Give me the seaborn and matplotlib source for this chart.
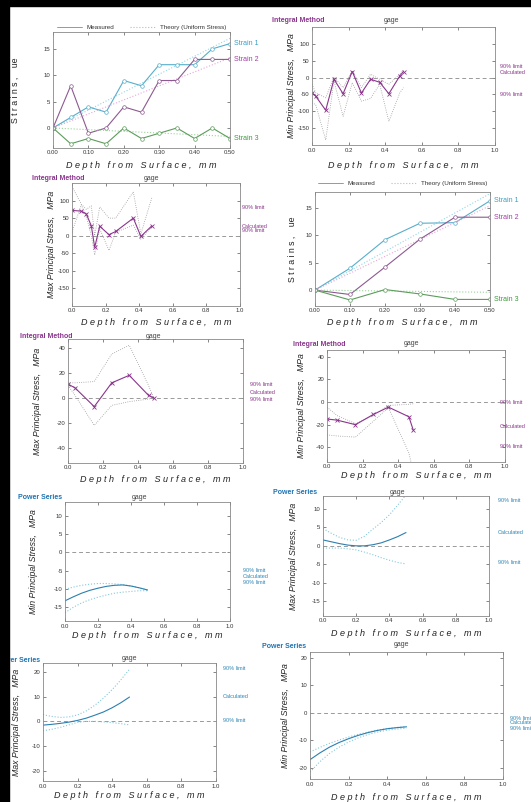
import numpy as np
import pandas as pd
import seaborn as sns
import matplotlib.pyplot as plt
from matplotlib.lines import Line2D
from matplotlib.patches import Rectangle

# ---- data ----
# strain panels
depth_a = [0.00, 0.05, 0.10, 0.15, 0.20, 0.25, 0.30, 0.35, 0.40, 0.45, 0.50]
strain1_a = [0, 2, 4, 3, 9, 8, 12, 12, 12, 15, 16]
strain2_a = [0, 8, -1, 0, 4, 3, 9, 9, 13, 13, 13]
strain3_a = [0, -3, -2, -3, 0, -2, -1, 0, -2, 0, -2]
theory_depth = [0.0, 0.5]
theory1_a = [0, 17.0]
theory2_a = [0, 13.3]
theory3_a = [0, -1.6]

depth_b = [0.0, 0.1, 0.2, 0.3, 0.4, 0.5]
strain1_b = [0, 4.0, 9.2, 12.2, 12.3, 16.3]
strain2_b = [0, -0.8, 4.2, 9.3, 13.3, 13.3]
strain3_b = [0, -1.8, 0.1, -0.7, -1.7, -1.7]
theory1_b = [0, 17.6]
theory2_b = [0, 15.4]
theory3_b = [0, -0.4]

# integral method, min principal (top right)
x_int_min1 = [0.0, 0.02, 0.075, 0.12, 0.17, 0.22, 0.27, 0.32, 0.37, 0.42, 0.48, 0.5]
calc_int_min1 = [-45, -55, -97, -5, -48, 18, -46, -5, -14, -48, 5, 18]
upper_int_min1 = [-20, -45, -60, 2, -30, 20, -30, 10, -5, -20, 10, 22]
lower_int_min1 = [-75, -80, -185, -10, -115, -15, -70, -62, -20, -130, -45, -30]

# integral method, max principal (row 2 left)
x_int_max1 = [0.0, 0.055, 0.085, 0.115, 0.135, 0.165, 0.22, 0.26, 0.365, 0.41, 0.475]
calc_int_max1 = [72, 70, 62, 28, -33, 27, 3, 12, 50, -2, 28]
upper_int_max1 = [140, 90, 75, 85, 0, 82, 50, 50, 125, 5, 108]
lower_int_max1 = [10, 88, 55, 0, -55, 20, -42, 10, 30, -10, 25]

# integral method, max principal (row 3 left)
x_int_max2 = [0.0, 0.04, 0.15, 0.25, 0.35, 0.46, 0.49]
calc_int_max2 = [11, 8, -7, 12, 18, 2, 0]
upper_int_max2 = [12, 12, 13, 35, 42, 10, 0]
lower_int_max2 = [10, 2, -22, -6, -3, -1, 0]

# integral method, min principal (row 3 right)
x_int_min2 = [0.0, 0.057, 0.16, 0.26, 0.345, 0.46, 0.485]
calc_int_min2 = [-15, -16, -20, -11, -4.5, -13, -25]
upper_int_min2 = [-4.5, -12, -19, -12, -3, -2, -1.5]
lower_int_min2 = [-29, -30, -31, -17, -5, -45, -62]

# power series panels
x_pow = [0.0, 0.05, 0.1, 0.15, 0.2, 0.25, 0.3, 0.35, 0.4, 0.45, 0.5]
calc_pow_min1 = [-13.4, -12.3, -11.3, -10.5, -9.9, -9.4, -9.1, -9.0, -9.3, -9.8, -10.4]
upper_pow_min1 = [-10.2, -9.6, -9.1, -8.8, -8.6, -8.6, -8.7, -8.9, -9.3, -9.8, -10.4]
lower_pow_min1 = [-16.7, -15.2, -14.0, -13.1, -12.4, -11.8, -11.3, -11.0, -10.8, -10.6, -10.6]

calc_pow_max1 = [1.6, 1.1, 0.6, 0.2, 0.0, 0.0, 0.3, 0.8, 1.6, 2.5, 3.6]
upper_pow_max1 = [4.7, 3.4, 2.3, 1.6, 1.5, 2.6, 4.5, 6.3, 8.4, 11.0, 13.8]
lower_pow_max1 = [-0.6, -0.6, -0.6, -0.8, -1.1, -1.7, -2.4, -3.2, -3.9, -4.5, -4.9]

calc_pow_max2 = [-1.5, -1.2, -0.8, -0.3, 0.4, 1.3, 2.5, 3.8, 5.5, 7.5, 9.8]
upper_pow_max2 = [2.7, 2.0, 1.6, 1.8, 2.6, 4.2, 6.5, 9.4, 12.8, 16.7, 21.0]
lower_pow_max2 = [-3.8, -3.2, -2.4, -1.4, -0.4, 0.0, 0.0, -0.2, -0.5, -0.9, -1.4]

calc_pow_min2 = [-17.0, -14.6, -12.5, -10.8, -9.4, -8.2, -7.2, -6.4, -5.8, -5.4, -5.1]
upper_pow_min2 = [-14.2, -12.6, -11.1, -9.9, -8.8, -7.8, -7.0, -6.3, -5.7, -5.3, -5.0]
lower_pow_min2 = [-21.5, -17.8, -14.8, -12.5, -10.6, -9.1, -7.9, -7.0, -6.3, -5.9, -5.6]

limit_labels = ['90% limit', 'Calculated', '90% limit']
strain_labels = ['Strain 1', 'Strain 2', 'Strain 3']

# ---- style ----
sns.set_style('ticks')
plt.rcParams['font.family'] = ['Liberation Sans', 'DejaVu Sans']

W, H = 531, 802
fig = plt.figure(figsize=(W / 100, H / 100), dpi=100)
fig.patch.set_facecolor('white')

PURPLE = '#8a358c'
BLUE = '#2c7fb0'
LIGHTBLUE = '#86c8db'
GREY = '#9c9c9c'
XLAB = 'D e p t h   f r o m   S u r f a c e ,   m m'


def add_ax(l, t, r, b):
    return fig.add_axes([l / W, 1 - b / H, (r - l) / W, (b - t) / H])


def ftext(x, y, s, **kw):
    fig.text(x / W, 1 - y / H, s, **kw)


def style(ax, xmax, ylim, yticks, fmt):
    ax.set_xlim(0, xmax)
    ax.set_ylim(*ylim)
    step = 0.1 if xmax == 0.5 else 0.2
    ticks = np.round(np.arange(0, xmax + 1e-9, step), 2)
    ax.set_xticks(ticks)
    ax.set_xticklabels([fmt % t for t in ticks])
    ax.set_yticks(yticks)
    ax.set_yticklabels([str(v) for v in yticks])
    ax.tick_params(direction='in', length=2, width=0.5, top=True, right=True,
                   labelsize=4.3, colors='#555', labelcolor='#333', pad=1.8)
    for s in ax.spines.values():
        s.set_color('#888')
        s.set_linewidth(0.6)
    ax.set_xlabel('')
    ax.set_ylabel('')


def draw_strain(box, depth, s1, s2, s3, t1, t2, t3, ylim, leg_y):
    ax = add_ax(*box)
    cols = ['#58aecb', '#8c5a90', '#5c9c5c']
    tcols = ['#93d6e6', '#e8a6d6', '#98d498']
    lcols = ['#3b9fc3', '#a23ea2', '#3c9a3c']
    for s, t, c, tc, lc, lab in zip([s1, s2, s3], [t1, t2, t3], cols, tcols, lcols, strain_labels):
        sns.lineplot(x=theory_depth, y=t, ax=ax, color=tc, lw=0.8, linestyle=':',
                     sort=False, estimator=None)
        sns.lineplot(x=depth, y=s, ax=ax, color=c, lw=0.8, marker='o', markersize=2.6,
                     mfc='white', mec=c, mew=0.5, sort=False, estimator=None)
        ax.text(0.51, s[-1], lab, color=lc, fontsize=5, va='center', ha='left', clip_on=False)
    style(ax, 0.5, ylim, [0, 5, 10, 15], '%.2f')
    handles = [Line2D([], [], color='#888', lw=0.6),
               Line2D([], [], color='#bbb', lw=0.8, linestyle=':')]
    leg = ax.legend(handles, ['Measured', 'Theory (Uniform Stress)'], loc='center',
                    bbox_to_anchor=(0.5, 1 - (leg_y - box[1]) / (box[3] - box[1])),
                    ncol=2, frameon=False, fontsize=4.5, handlelength=4,
                    columnspacing=2.5, borderaxespad=0)
    for tx in leg.get_texts():
        tx.set_color('#333')
    return ax


def draw_stress(box, x, calc, upper, lower, ylim, yticks, method):
    ax = add_ax(*box)
    ax.axhline(0, color='#999', lw=0.7, ls=(0, (4, 3)))
    if method == 'int':
        for lim in (upper, lower):
            sns.lineplot(x=x, y=lim, ax=ax, color=GREY, lw=0.6, linestyle=':',
                         sort=False, estimator=None)
        sns.lineplot(x=x, y=calc, ax=ax, color=PURPLE, lw=0.8, marker='x', markersize=2.5,
                     mew=0.6, mec=PURPLE, sort=False, estimator=None)
    else:
        for lim in (upper, lower):
            sns.lineplot(x=x, y=lim, ax=ax, color=LIGHTBLUE, lw=0.8, linestyle=':',
                         sort=False, estimator=None)
        sns.lineplot(x=x, y=calc, ax=ax, color=BLUE, lw=0.8, sort=False, estimator=None)
    style(ax, 1.0, ylim, yticks, '%.1f')
    return ax


def labels(box, ylab_x, xlab_y, ylab, italic=True):
    cx = (box[0] + box[2]) / 2
    cy = (box[1] + box[3]) / 2
    ftext(cx, xlab_y, XLAB, ha='center', va='center', fontsize=6.5, style='italic', color='#222')
    ftext(ylab_x, cy, ylab, ha='center', va='center', rotation=90, fontsize=6.3,
          style='italic' if italic else 'normal', color='#222')


def header(tx, ty, title, gx, gy, method):
    c = PURPLE if method == 'int' else '#1f73b3'
    ftext(tx, ty, title, ha='left', va='center', fontsize=5, fontweight='bold', color=c)
    ftext(gx, gy, 'gage', ha='center', va='center', fontsize=5, color='#444')


def side(x, ys, method):
    c = PURPLE if method == 'int' else '#2f86b5'
    for y, s in zip(ys, limit_labels):
        ftext(x, y, s, ha='left', va='center', fontsize=4, color=c)


# ---- row 1 ----
b1 = (53, 32, 230, 148)
draw_strain(b1, depth_a, strain1_a, strain2_a, strain3_a, theory1_a, theory2_a, theory3_a,
            (-3.8, 18.2), 27)
labels(b1, 15, 165, 'S t r a i n s ,    ue', italic=False)

b2 = (312, 27, 495, 145)
draw_stress(b2, x_int_min1, calc_int_min1, upper_int_min1, lower_int_min1,
            (-200, 150), [-150, -100, -50, 0, 50, 100], 'int')
labels(b2, 292, 166, 'Min Principal Stress,   MPa')
header(272, 21, 'Integral Method', 392, 20, 'int')
side(500, [67, 73, 94], 'int')

# ---- row 2 ----
b3 = (72, 183, 240, 306)
draw_stress(b3, x_int_max1, calc_int_max1, upper_int_max1, lower_int_max1,
            (-200, 150), [-150, -100, -50, 0, 50, 100], 'int')
labels(b3, 52, 323, 'Max Principal Stress,   MPa')
header(32, 179, 'Integral Method', 152, 178, 'int')
side(242, [207, 226, 231], 'int')

b4 = (315, 192, 490, 306)
draw_strain(b4, depth_b, strain1_b, strain2_b, strain3_b, theory1_b, theory2_b, theory3_b,
            (-2.9, 17.9), 183)
labels(b4, 292, 323, 'S t r a i n s ,    ue', italic=False)

# ---- row 3 ----
b5 = (68, 339, 243, 463)
draw_stress(b5, x_int_max2, calc_int_max2, upper_int_max2, lower_int_max2,
            (-52, 47), [-40, -20, 0, 20, 40], 'int')
labels(b5, 38, 480, 'Max Principal Stress,   MPa')
header(20, 337, 'Integral Method', 153, 336, 'int')
side(250, [385, 392, 399], 'int')

b6 = (327, 350, 505, 462)
draw_stress(b6, x_int_min2, calc_int_min2, upper_int_min2, lower_int_min2,
            (-53, 46), [-40, -20, 0, 20, 40], 'int')
labels(b6, 302, 476, 'Min Principal Stress,   MPa')
header(293, 345, 'Integral Method', 412, 344, 'int')
side(500, [403, 426, 446], 'int')

# ---- row 4 ----
b7 = (65, 502, 230, 621)
draw_stress(b7, x_pow, calc_pow_min1, upper_pow_min1, lower_pow_min1,
            (-19, 14), [-15, -10, -5, 0, 5, 10], 'pow')
labels(b7, 33, 635, 'Min Principal Stress,   MPa')
header(18, 498, 'Power Series', 140, 498, 'pow')
side(243, [570, 576, 582], 'pow')

b8 = (323, 496, 489, 616)
draw_stress(b8, x_pow, calc_pow_max1, upper_pow_max1, lower_pow_max1,
            (-19, 13.5), [-15, -10, -5, 0, 5, 10], 'pow')
labels(b8, 293, 634, 'Max Principal Stress,   MPa')
header(273, 492, 'Power Series', 398, 492, 'pow')
side(498, [500, 532, 563], 'pow')

# ---- row 5 ----
b9 = (43, 663, 216, 781)
draw_stress(b9, x_pow, calc_pow_max2, upper_pow_max2, lower_pow_max2,
            (-24, 23.5), [-20, -10, 0, 10, 20], 'pow')
labels(b9, 17, 795, 'Max Principal Stress,   MPa')
header(-4, 661, 'Power Series', 130, 659, 'pow')
side(223, [668, 696, 721], 'pow')

b10 = (310, 652, 503, 779)
draw_stress(b10, x_pow, calc_pow_min2, upper_pow_min2, lower_pow_min2,
            (-24, 22), [-20, -10, 0, 10, 20], 'pow')
labels(b10, 285, 797, 'Min Principal Stress,   MPa')
header(262, 646, 'Power Series', 402, 645, 'pow')
side(510, [718, 723, 728], 'pow')

# scan border (black edge on top and left)
fig.patches.append(Rectangle((0, 0), 9 / W, 1, transform=fig.transFigure,
                             color='black', zorder=10))
fig.patches.append(Rectangle((0, 1 - 6 / H), 1, 6 / H, transform=fig.transFigure,
                             color='black', zorder=10))

fig.savefig('out.png', dpi=100)
